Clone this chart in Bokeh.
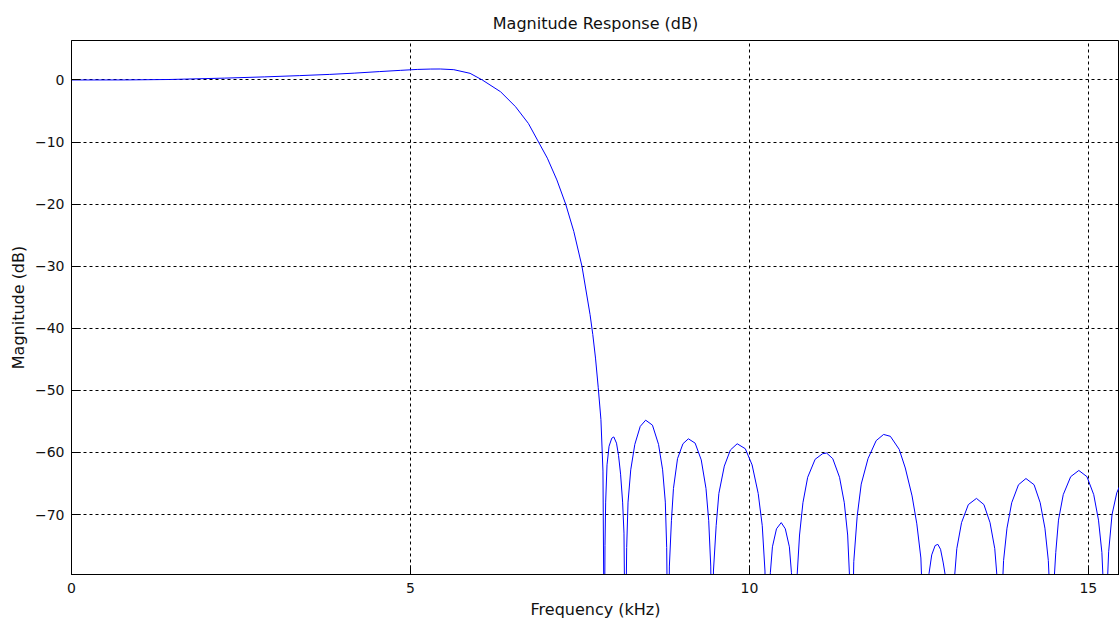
from bokeh.plotting import figure
from bokeh.models import Range1d, FixedTicker
from bokeh.embed import file_html
from bokeh.resources import INLINE

# Frequency (kHz) and magnitude (dB)
freq_khz = [
    0.00, 0.80, 1.45, 2.26, 2.85, 3.36, 3.81, 4.17, 4.54, 4.85, 5.10, 5.30, 5.44,
    5.64, 5.88, 6.06, 6.33, 6.55, 6.74, 6.89, 7.02, 7.16, 7.29, 7.41, 7.53, 7.65,
    7.69, 7.73, 7.77, 7.81, 7.84, 7.86,
    7.87, 7.88, 7.90, 7.93, 7.97, 8.00, 8.04, 8.07, 8.10, 8.13, 8.15, 8.17,
    8.19, 8.21, 8.25, 8.31, 8.39, 8.47, 8.57, 8.66, 8.72, 8.76, 8.78, 8.80,
    8.82, 8.85, 8.88, 8.94, 9.02, 9.10, 9.20, 9.29, 9.36, 9.40, 9.43, 9.45,
    9.47, 9.51, 9.55, 9.63, 9.72, 9.82, 9.94, 10.04, 10.13, 10.19, 10.23, 10.25,
    10.26, 10.28, 10.31, 10.34, 10.40, 10.47, 10.53, 10.59, 10.62, 10.65, 10.68,
    10.70, 10.74, 10.79, 10.86, 10.97, 11.08, 11.14, 11.23, 11.33, 11.40, 11.45, 11.48, 11.51,
    11.54, 11.59, 11.65, 11.75, 11.87, 11.98, 12.08, 12.21, 12.30, 12.40, 12.47, 12.53, 12.59,
    12.62, 12.65, 12.69, 12.74, 12.78, 12.82, 12.86, 12.90, 12.94, 12.97,
    12.99, 13.02, 13.06, 13.13, 13.23, 13.35, 13.46, 13.55, 13.62, 13.66, 13.68, 13.70,
    13.72, 13.75, 13.80, 13.87, 13.97, 14.08, 14.20, 14.29, 14.36, 14.41, 14.44, 14.46,
    14.48, 14.52, 14.56, 14.63, 14.74, 14.86, 14.98, 15.08, 15.15, 15.20, 15.23, 15.25,
    15.27, 15.30, 15.35, 15.42, 15.50, 15.60,
]
mag_db = [
    0.00, 0.01, 0.08, 0.30, 0.50, 0.70, 0.90, 1.10, 1.35, 1.55, 1.70, 1.76, 1.77,
    1.66, 1.07, 0.00, -1.90, -4.30, -7.00, -10.00, -12.60, -16.10, -20.00, -24.40, -30.00, -37.80,
    -41.00, -44.80, -49.50, -54.70, -63.00, -95.00,
    -75.0, -68.0, -62.0, -59.0, -57.7, -57.5, -58.5, -60.5, -63.5, -68.0, -73.0, -95.0,
    -75.3, -68.0, -62.8, -58.7, -55.8, -54.8, -55.6, -58.7, -62.8, -68.0, -75.3, -95.0,
    -78.3, -71.0, -65.8, -61.0, -58.6, -57.8, -58.5, -61.2, -65.8, -71.0, -78.3, -95.0,
    -79.1, -71.8, -66.6, -62.2, -59.6, -58.6, -59.4, -62.0, -66.6, -71.8, -79.1, -95.0,
    -91.8, -84.5, -79.3, -75.2, -72.3, -71.3, -72.3, -75.2, -79.3, -84.5, -95.0,
    -80.6, -73.3, -68.1, -64.0, -61.1, -60.2, -60.1, -61.0, -64.0, -68.1, -73.3, -80.6, -95.0,
    -77.6, -70.3, -65.1, -61.0, -58.1, -57.1, -57.4, -59.5, -62.5, -67.0, -71.5, -77.0, -95.0,
    -85.0, -79.5, -76.5, -75.0, -74.8, -75.6, -77.8, -80.5, -86.0, -95.0,
    -88.0, -81.0, -75.5, -71.3, -68.4, -67.4, -68.4, -71.3, -75.5, -81.0, -88.0, -95.0,
    -84.7, -77.4, -72.2, -68.1, -65.2, -64.2, -65.2, -68.1, -72.2, -77.4, -84.7, -95.0,
    -83.4, -76.1, -70.9, -66.8, -63.9, -62.9, -63.9, -66.8, -70.9, -76.1, -83.4, -95.0,
    -84.0, -76.0, -70.0, -66.5, -64.5, -63.5,
]
x_ticks = [0, 5, 10, 15]
y_ticks = [-70, -60, -50, -40, -30, -20, -10, 0]

FONT = "DejaVu Sans"

p = figure(width=1119, height=621, output_backend="svg", toolbar_location=None,
           x_range=Range1d(0, 15.46), y_range=Range1d(-79.66, 6.36),
           min_border_left=71, min_border_right=0, min_border_top=40, min_border_bottom=46)
p.outline_line_color = "black"
p.outline_line_width = 1
p.background_fill_color = "white"
p.border_fill_color = "white"

p.line(freq_khz, mag_db, line_color="#0000ff", line_width=1)

p.title.text = "Magnitude Response (dB)"
p.title.align = "center"
p.title.text_font = FONT
p.title.text_font_size = "16px"
p.title.text_font_style = "normal"
p.title.text_color = "#111111"
p.title.offset = 5
p.title.standoff = 16

p.xaxis.ticker = FixedTicker(ticks=x_ticks)
p.yaxis.ticker = FixedTicker(ticks=y_ticks)
p.xaxis.axis_label = "Frequency (kHz)"
p.yaxis.axis_label = "Magnitude (dB)"
for ax in (p.xaxis, p.yaxis):
    ax.axis_line_color = "black"
    ax.axis_line_width = 1
    ax.major_tick_in = 9
    ax.major_tick_out = 0
    ax.major_tick_line_color = "black"
    ax.minor_tick_in = 0
    ax.minor_tick_out = 0
    ax.major_label_text_font = FONT
    ax.major_label_text_font_size = "14px"
    ax.major_label_text_color = "#111111"
    ax.axis_label_text_font = FONT
    ax.axis_label_text_font_size = "16px"
    ax.axis_label_text_font_style = "normal"
    ax.axis_label_text_color = "#111111"
p.xaxis.major_label_standoff = 8
p.xaxis.axis_label_standoff = 4
p.yaxis.major_label_standoff = 7
p.yaxis.axis_label_standoff = 4

for g in (p.xgrid, p.ygrid):
    g.grid_line_color = "black"
    g.grid_line_dash = "3 3"
    g.grid_line_width = 1
    g.grid_line_alpha = 1.0

open("out.html", "w").write(file_html(p, INLINE))
